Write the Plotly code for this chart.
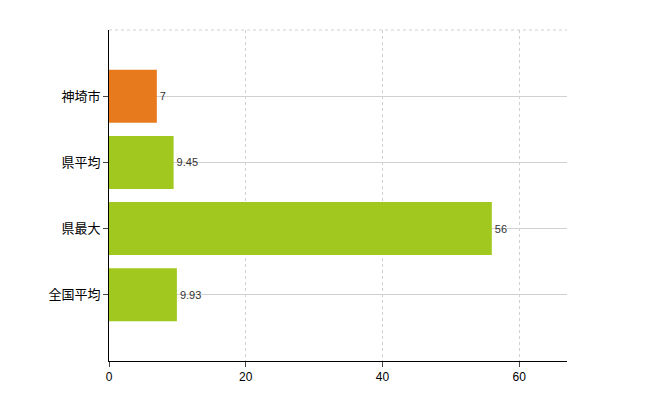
import plotly.graph_objects as go

categories = ["神埼市", "県平均", "県最大", "全国平均"]
values = [7, 9.45, 56, 9.93]
colors = ["#e87a1e", "#a0c81e", "#a0c81e", "#a0c81e"]
labels = ["7", "9.45", "56", "9.93"]

fig = go.Figure(go.Bar(
    y=categories, x=values, orientation="h", marker_color=colors,
    marker_line_width=0, width=0.8, text=labels, textposition="outside",
    textfont=dict(size=11, color="#333", family="Liberation Sans, Arial"), cliponaxis=False))

fig.update_layout(
    width=650, height=400, plot_bgcolor="white", paper_bgcolor="white",
    margin=dict(l=101, r=91, t=22, b=47, pad=0), showlegend=False,
    font=dict(family="Liberation Sans, Noto Sans CJK JP, sans-serif", size=13, color="#000"),
    xaxis=dict(range=[0, 67], tickvals=[0, 20, 40, 60], showgrid=True, automargin=False,
               gridcolor="#d0d0d0", griddash="dot", zeroline=False,
               showline=True, linecolor="#000", ticks="outside", ticklen=5,
               tickfont=dict(size=12)),
    yaxis=dict(categoryorder="array", categoryarray=categories[::-1], automargin=False,
               range=[-1, 4], showgrid=True, gridcolor="#d0d0d0",
               showline=True, linecolor="#000", ticks="outside", ticklen=5,
               tickfont=dict(size=13, family="Noto Sans CJK JP")),
)
fig.add_shape(type="line", xref="paper", yref="paper", x0=0, x1=1, y0=1, y1=1,
              line=dict(color="#d0d0d0", width=1, dash="dot"))
fig.write_html("out.html")
